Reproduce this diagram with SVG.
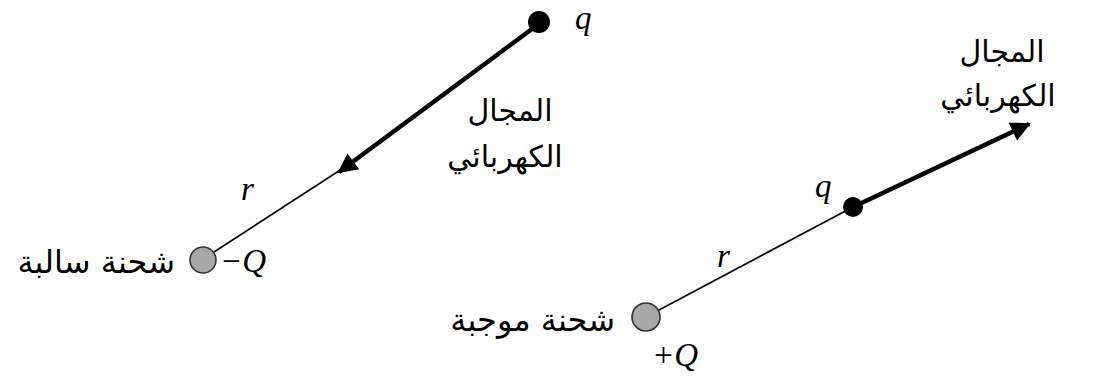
<svg xmlns="http://www.w3.org/2000/svg" width="1097" height="383" viewBox="0 0 1097 383">
<style>
.math{font-family:"Liberation Serif","Times New Roman",serif;font-style:italic;font-size:33px;fill:#000}
.ar{font-family:"DejaVu Sans","Noto Sans",sans-serif;font-size:30px;fill:#000;text-anchor:middle}
.arr{font-family:"DejaVu Sans","Noto Sans",sans-serif;font-size:32px;fill:#000;text-anchor:end}
.big{fill:#a8a8a8;stroke:#333;stroke-width:1.6}
.thin{stroke:#000;stroke-width:1.7;fill:none}
.thick{stroke:#000;stroke-width:4.5;fill:none}
</style>
<defs>
<marker id="ah" viewBox="0 0 10 10" refX="9" refY="5" markerWidth="6" markerHeight="4.4" markerUnits="strokeWidth" orient="auto">
<path d="M0,0 L10,5 L0,10 z" fill="#000"/>
</marker>
</defs>
<rect width="1097" height="383" fill="#fff"/>
<g id="connectors">
<line class="thin" x1="348" y1="165" x2="214" y2="252"/>
<line class="thick" x1="532" y1="29" x2="339" y2="172" marker-end="url(#ah)"/>
<line class="thin" x1="659" y1="310" x2="853" y2="207"/>
<line class="thick" x1="853" y1="207" x2="1029" y2="124" marker-end="url(#ah)"/>
</g>
<g id="left-q">
<circle cx="539" cy="22" r="11" fill="#000"/>
<text class="math" x="575" y="29">q</text>
</g>
<g id="left-Q">
<circle class="big" cx="203" cy="260" r="13"/>
<text class="math" x="220" y="272">−Q</text>
<text class="arr" x="175" y="273">شحنة سالبة</text>
</g>
<g id="left-r"><text class="math" x="241" y="200">r</text></g>
<g id="left-field">
<text class="ar" x="510" y="121">المجال</text>
<text class="ar" x="505" y="167">الكهربائي</text>
</g>
<g id="right-Q">
<circle class="big" cx="646" cy="317" r="14"/>
<text class="math" x="652" y="366">+Q</text>
<text class="arr" x="615" y="331">شحنة موجبة</text>
</g>
<g id="right-q">
<circle cx="853" cy="207" r="10" fill="#000"/>
<text class="math" x="815" y="197">q</text>
</g>
<g id="right-r"><text class="math" x="717" y="267">r</text></g>
<g id="right-field">
<text class="ar" x="1002" y="62">المجال</text>
<text class="ar" x="998" y="106">الكهربائي</text>
</g>
</svg>
